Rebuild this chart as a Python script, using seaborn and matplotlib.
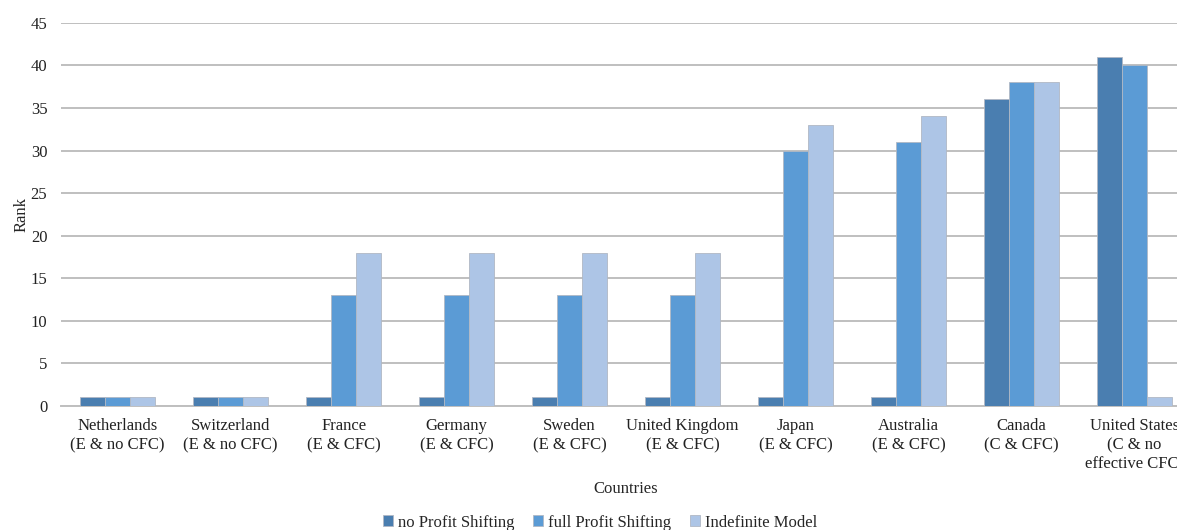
import matplotlib
matplotlib.use("Agg")
import matplotlib.pyplot as plt
import seaborn as sns
import pandas as pd

# Data
countries = ["Netherlands\n(E & no CFC)", "Switzerland\n(E & no CFC)", "France\n(E & CFC)",
             "Germany\n(E & CFC)", "Sweden\n(E & CFC)", "United Kingdom\n(E & CFC)",
             "Japan\n(E & CFC)", "Australia\n(E & CFC)", "Canada\n(C & CFC)",
             "United States\n(C & no\neffective CFC)"]
no_shift = [1, 1, 1, 1, 1, 1, 1, 1, 36, 41]
full_shift = [1, 1, 13, 13, 13, 13, 30, 31, 38, 40]
indefinite = [1, 1, 18, 18, 18, 18, 33, 34, 38, 1]
series = ["no Profit Shifting", "full Profit Shifting", "Indefinite Model"]

df = pd.DataFrame({
    "Country": countries * 3,
    "Rank": no_shift + full_shift + indefinite,
    "Model": [series[0]] * 10 + [series[1]] * 10 + [series[2]] * 10,
})

palette = {series[0]: "#4a7eb0", series[1]: "#5b9bd5", series[2]: "#adc5e6"}

sns.set_style("white")
plt.rcParams['font.family'] = ['Liberation Serif', 'DejaVu Serif']

fig = plt.figure(figsize=(11.77, 5.30), dpi=100)
ax = fig.add_axes([0.052, 0.234, 0.96, 0.723])

sns.barplot(data=df, x="Country", y="Rank", hue="Model", palette=palette, ax=ax,
            width=0.66, saturation=1, edgecolor="#b0b8c4", linewidth=0.6, zorder=3)

ax.set_ylim(0, 45)
ax.set_yticks(range(0, 46, 5))
ax.set_xlim(-0.5, 9.5)
ax.yaxis.grid(True, color="#bfbfbf", linewidth=1.4, zorder=0)
ax.set_axisbelow(True)
for s in ["top", "right", "left"]:
    ax.spines[s].set_visible(False)
ax.spines["bottom"].set_color("#bfbfbf")
ax.spines["bottom"].set_linewidth(1.4)
ax.tick_params(axis="x", length=0, labelsize=12, colors="#222222", pad=9)
ax.tick_params(axis="y", length=0, labelsize=12, colors="#222222", pad=10)
for lbl in ax.get_xticklabels():
    lbl.set_linespacing(1.25)
ax.set_ylabel("Rank", fontsize=12, labelpad=1)
ax.set_xlabel("Countries", fontsize=12, labelpad=6)

ax.get_legend().remove()
handles, labels = ax.get_legend_handles_labels()
fig.legend(handles, labels, loc="center", bbox_to_anchor=(0.51, 0.014), ncol=3,
           frameon=False, fontsize=12, handlelength=0.6, handleheight=0.6,
           handletextpad=0.3, columnspacing=1.1)

fig.savefig("out.png", dpi=100)
